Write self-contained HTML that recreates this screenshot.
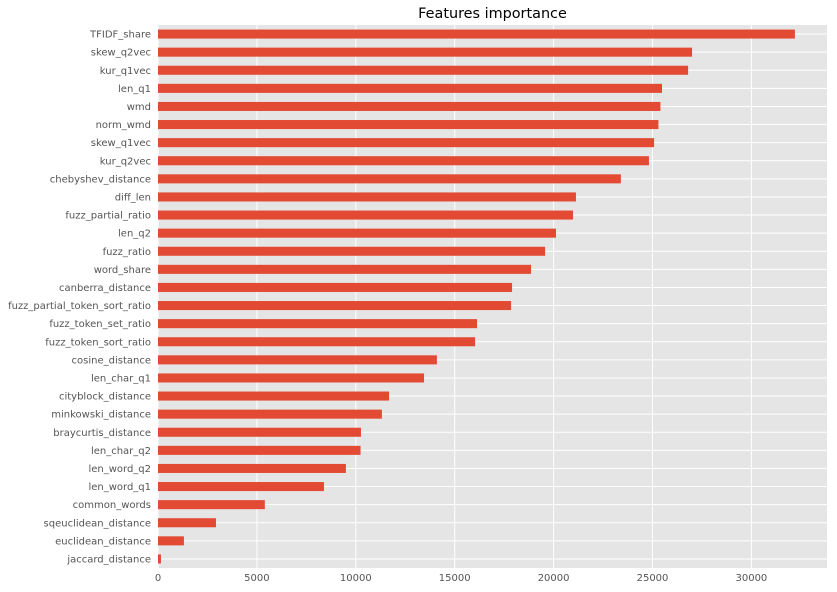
<!DOCTYPE html>
<html><head><meta charset="utf-8"><style>
body{margin:0;background:#fff;}
svg{display:block;font-family:"DejaVu Sans","Liberation Sans",sans-serif;}
</style></head><body>
<svg id="chart" width="837" height="592"></svg>
<script>
const categories=["TFIDF_share","skew_q2vec","kur_q1vec","len_q1","wmd","norm_wmd","skew_q1vec","kur_q2vec","chebyshev_distance","diff_len","fuzz_partial_ratio","len_q2","fuzz_ratio","word_share","canberra_distance","fuzz_partial_token_sort_ratio","fuzz_token_set_ratio","fuzz_token_sort_ratio","cosine_distance","len_char_q1","cityblock_distance","minkowski_distance","braycurtis_distance","len_char_q2","len_word_q2","len_word_q1","common_words","sqeuclidean_distance","euclidean_distance","jaccard_distance"];
const values=[32200,27000,26800,25480,25400,25300,25080,24820,23400,21130,20980,20120,19570,18860,17900,17850,16130,16030,14100,13450,11680,11320,10260,10240,9500,8390,5400,2930,1310,150];
const xTicks=[0,5000,10000,15000,20000,25000,30000];
const NS="http://www.w3.org/2000/svg";
const svg=document.getElementById('chart');
const L=158,R=827,T=25,B=568;
const x=v=>L+v*0.01978;
const band=(B-T)/categories.length;
const y=i=>T+band*(i+0.5);
function mk(t,a){const e=document.createElementNS(NS,t);for(const k in a)e.setAttribute(k,a[k]);svg.appendChild(e);return e;}
const bg=mk('rect',{x:L,y:T,width:R-L,height:B-T,fill:'#e5e5e5'});


xTicks.forEach(v=>{
 const g=mk('line',{x1:x(v),x2:x(v),y1:T,y2:B,stroke:'#fff','stroke-width':1});
 
 
 const t=mk('text',{x:x(v),y:B+13,'text-anchor':'middle','font-size':10,fill:'#555'});
 t.textContent=v;
 
 
});
categories.forEach((c,i)=>{
 const g=mk('line',{x1:L,x2:R,y1:y(i),y2:y(i),stroke:'#fff','stroke-width':1});
 
 
});
categories.forEach((c,i)=>{
 const h=band*0.5;
 const r=mk('rect',{x:x(0),y:y(i)-h/2,width:x(values[i])-x(0),height:h,fill:'#e24a33'});
 
 
 const t=mk('text',{x:L-7,y:y(i)+3.5,'text-anchor':'end','font-size':10,fill:'#555'});
 t.textContent=c;
 
 
});
const title=mk('text',{x:(L+R)/2,y:18,'text-anchor':'middle','font-size':14.4,fill:'#000'});
title.textContent='Features importance';


</script>
</body></html>
